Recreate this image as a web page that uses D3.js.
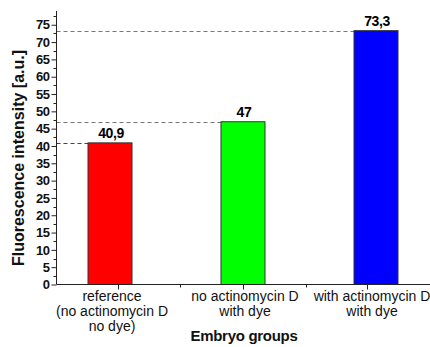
<!DOCTYPE html>
<html><head><meta charset="utf-8">
<script src="https://cdn.jsdelivr.net/npm/d3@7/dist/d3.min.js"></script>
<style>
html,body{margin:0;padding:0;background:#fff;}
svg{display:block;font-family:"Liberation Sans",Arial,sans-serif;}
</style></head>
<body><svg id="c" width="430" height="347"></svg>
<script>
const categories = [
  ["reference", "(no actinomycin D", "no dye)"],
  ["no actinomycin D", "with dye"],
  ["with actinomycin D", "with dye"]
];
const values = [40.9, 47, 73.3];
const valueLabels = ["40,9", "47", "73,3"];
const barColors = ["#ff0000", "#00ff00", "#0000ff"];
const yTicks = [0,5,10,15,20,25,30,35,40,45,50,55,60,65,70,75];
const yLabel = "Fluorescence intensity [a.u.]";
const xLabel = "Embryo groups";

const svg = d3.select("#c");
const axisX0 = 56.5, axisY0 = 284.5;
const y = d3.scaleLinear().domain([0, 79]).range([axisY0, axisY0 - 79*3.463]);
const x = d3.scaleLinear().domain([0, 2]).range([110, 376]);
const barW = 44;

// dashed reference lines
svg.append("g").selectAll("line").data(values).join("line")
  .attr("x1", axisX0).attr("x2", (d,i)=>x(i)-barW/2)
  .attr("y1", d=>Math.round(y(d))+0.5).attr("y2", d=>Math.round(y(d))+0.5)
  .attr("stroke", (d,i)=> i===0 ? "#444" : "#777").attr("stroke-width", 1)
  .attr("stroke-dasharray", "4,3");

// bars
svg.append("g").selectAll("rect").data(values).join("rect")
  .attr("x", (d,i)=>x(i)-barW/2).attr("width", barW)
  .attr("y", d=>y(d)).attr("height", d=>y(0)-y(d))
  .attr("fill", (d,i)=>barColors[i]).attr("stroke", "#333").attr("stroke-width", 1);

// value labels
svg.append("g").selectAll("text").data(values).join("text")
  .attr("x", (d,i)=>x(i)+1).attr("y", d=>y(d)-5)
  .attr("text-anchor", "middle").attr("font-weight", "bold").attr("font-size", 14)
  .attr("letter-spacing", "-0.4px")
  .text((d,i)=>valueLabels[i]);

// y axis
const yAxis = d3.axisLeft(y).tickValues(yTicks).tickSize(5).tickPadding(2).tickFormat(d3.format("d"));
const gy = svg.append("g").attr("transform", `translate(${axisX0},0)`).call(yAxis);
gy.select(".domain").remove();
gy.selectAll(".tick text").attr("font-size", 13).attr("font-weight", "bold")
  .attr("font-family", "Liberation Sans, Arial, sans-serif").attr("fill", "#111").attr("letter-spacing", "-0.5px");
gy.selectAll(".tick line").attr("stroke", "#222");
const minorY = yTicks.map(d=>d+2.5);
svg.append("g").selectAll("line").data(minorY).join("line")
  .attr("x1", axisX0-3).attr("x2", axisX0)
  .attr("y1", d=>Math.round(y(d))+0.5).attr("y2", d=>Math.round(y(d))+0.5)
  .attr("stroke", "#222");
svg.append("line").attr("x1", axisX0).attr("x2", axisX0)
  .attr("y1", y(0)).attr("y2", y(79)).attr("stroke", "#222");

// x axis
svg.append("line").attr("x1", axisX0).attr("x2", 430)
  .attr("y1", axisY0).attr("y2", axisY0).attr("stroke", "#222");
const majorX = [0.06, 1, 1.93];
const minorX = [0.53, 1.47];
svg.append("g").selectAll("line").data(majorX).join("line")
  .attr("x1", d=>Math.round(x(d))+0.5).attr("x2", d=>Math.round(x(d))+0.5)
  .attr("y1", axisY0).attr("y2", axisY0+5).attr("stroke", "#222");
svg.append("g").selectAll("line").data(minorX).join("line")
  .attr("x1", d=>Math.round(x(d))+0.5).attr("x2", d=>Math.round(x(d))+0.5)
  .attr("y1", axisY0).attr("y2", axisY0+3).attr("stroke", "#222");

// category labels
const labelShift = [2, 2, -4];
const cat = svg.append("g").selectAll("text").data(categories).join("text")
  .attr("text-anchor", "middle").attr("font-size", 14).attr("fill", "#111");
cat.each(function(lines, i){
  d3.select(this).selectAll("tspan").data(lines).join("tspan")
    .attr("x", x(i)+labelShift[i]).attr("y", (d,j)=>301+j*15).text(d=>d);
});

// axis titles
svg.append("text").attr("x", 244).attr("y", 341).attr("text-anchor", "middle")
  .attr("font-size", 15).attr("font-weight", "bold").attr("fill", "#111")
  .attr("letter-spacing", "-0.3px").text(xLabel);
svg.append("text").attr("transform", "translate(24,158) rotate(-90)")
  .attr("text-anchor", "middle").attr("font-size", 16).attr("font-weight", "bold").attr("fill", "#111")
  .text(yLabel);
</script></body></html>
